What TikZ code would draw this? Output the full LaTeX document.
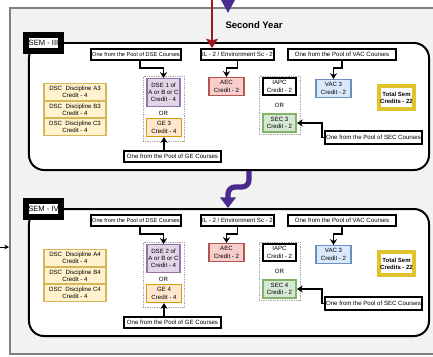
\documentclass[tikz,border=0pt]{standalone}
\usepackage{fontspec}
\setmainfont{Liberation Sans}
\usetikzlibrary{arrows.meta,calc}
\usepackage{xcolor}
\definecolor{background}{HTML}{F2F2F2}
\definecolor{framegray}{HTML}{808080}
\definecolor{dscfill}{HTML}{FFF2CC}
\definecolor{dscline}{HTML}{D6B656}
\definecolor{dsefill}{HTML}{E1D5E7}
\definecolor{dseline}{HTML}{9673A6}
\definecolor{gefill}{HTML}{FFE6CC}
\definecolor{geline}{HTML}{D79B00}
\definecolor{aecfill}{HTML}{F8CECC}
\definecolor{aecline}{HTML}{B85450}
\definecolor{secfill}{HTML}{D5E8D4}
\definecolor{secline}{HTML}{82B366}
\definecolor{vacfill}{HTML}{DAE8FC}
\definecolor{vacline}{HTML}{6C8EBF}
\definecolor{totline}{HTML}{E0C42A}
\definecolor{yearpurple}{HTML}{4A2A8F}
\definecolor{ilred}{HTML}{A0181E}

\tikzset{
  sembox/.style={draw, line width=1.7pt, fill=white, rounded corners=0.45cm,
    minimum width=12cm, minimum height=3.81cm},
  semlabel/.style={draw, line width=5pt, fill=white, inner sep=0pt,
    minimum width=1.05cm, minimum height=0.48cm, font=\fontsize{6.5}{7}\selectfont},
  pool/.style={draw, line width=1.6pt, fill=white, inner sep=1pt,
    minimum height=0.33cm, font=\fontsize{5.2}{6}\selectfont},
  course/.style={draw, line width=1.2pt, inner sep=0pt, align=center,
    minimum width=1.04cm, minimum height=0.53cm, font=\fontsize{5.2}{6.2}\selectfont},
  dsc/.style={course, fill=dscfill, draw=dscline, minimum width=1.87cm, minimum height=0.5cm},
  choice/.style={draw=gray!70, densely dotted, line width=0.5pt, minimum width=1.23cm},
  ortext/.style={font=\fontsize{5.2}{6}\selectfont, inner sep=0pt},
  pick/.style={line width=1.3pt, -{Stealth[length=5pt,width=6pt]}}
}

\begin{document}
\begin{tikzpicture}[x=0.03cm,y=-0.03cm]
\clip (0,0) rectangle (433,356);
%draw frame and heading
\draw[fill=background, draw=framegray, line width=1.2pt] (10,8) rectangle (445,354);
\node[font=\bfseries\fontsize{8.1}{9}\selectfont] (year) at (254,25) {Second Year};
\coordinate (yearIn) at (228,-12);
\coordinate (yearTip) at (228,13);
\draw[yearpurple, line width=4.5pt, -{Triangle[length=11pt,width=11pt]}] (yearIn) -- (yearTip);
\coordinate (leftIn) at (0,247);
\coordinate (leftTip) at (9,247);
\draw[line width=0.8pt, -{Stealth[length=4pt,width=4pt]}] (leftIn) -- (leftTip);

%draw both semesters
\foreach \sem/\dy/\n/\k in {III/0/1/3, IV/166/2/4}{
\begin{scope}[shift={(0,\dy)}]
  \node[sembox] (sem\sem) at (229,106.5) {};
  \node[semlabel] (lbl\sem) at (43.5,43) {SEM - \sem};

  \node[dsc] (dscA\sem) at (75,92) {DSC\ \ Discipline A\k\\Credit - 4};
  \node[dsc] (dscB\sem) at (75,109.5) {DSC\ \ Discipline B\k\\Credit - 4};
  \node[dsc] (dscC\sem) at (75,127) {DSC\ \ Discipline C\k\\Credit - 4};

  \node[choice, minimum height=1.95cm] (dseGrp\sem) at (163.5,108.5) {};
  \node[course, fill=dsefill, draw=dseline, minimum width=1cm, minimum height=0.83cm] (dse\sem) at (163.5,92.5) {DSE \n\ of\\A or B or C\\Credit - 4};
  \node[ortext] (dseOr\sem) at (163.5,113) {OR};
  \node[course, fill=gefill, draw=geline] (ge\sem) at (164,127.5) {GE \k\\Credit - 4};

  \node[course, fill=aecfill, draw=aecline] (aec\sem) at (226.5,86.5) {AEC\\Credit - 2};

  \node[choice, minimum height=1.74cm] (iapcGrp\sem) at (279.5,105) {};
  \node[course, line width=1.7pt, fill=white, minimum width=0.99cm, minimum height=0.51cm] (iapc\sem) at (279.5,86.5) {IAPC\\Credit - 2};
  \node[ortext] (iapcOr\sem) at (279.5,105) {OR};
  \node[course, fill=secfill, draw=secline, minimum width=1cm, minimum height=0.55cm] (sec\sem) at (279.5,123) {SEC \k\\Credit - 2};

  \node[course, fill=vacfill, draw=vacline] (vac\sem) at (333.5,88.5) {VAC 3\\Credit - 2};

  \node[draw=totline, line width=3pt, fill=white, inner sep=0pt, align=center,
    minimum width=1.05cm, minimum height=0.69cm,
    font=\bfseries\fontsize{5.1}{6.2}\selectfont] (total\sem) at (396.5,97.5) {Total Sem\\Credits - 22};

  %pools of courses
  \node[pool, minimum width=2.7cm, font=\fontsize{4.8}{6}\selectfont] (poolDSE\sem) at (136,54.5) {One from the Pool of DSE Courses};
  \node[pool, minimum width=2.91cm] (poolGE\sem) at (172.5,156.5) {One from the Pool of GE Courses};
  \node[pool, minimum width=2.19cm] (poolIL\sem) at (237.5,54.5) {IL - 2 / Environment Sc - 2};
  \node[pool, minimum width=3.24cm] (poolVAC\sem) at (342,54.5) {One from the Pool of VAC Courses};
  \node[pool, minimum width=2.91cm, minimum height=0.39cm] (poolSEC\sem) at (373.5,137.5) {One from the Pool of SEC Courses};

  \draw[pick] ([xshift=0.12cm]poolDSE\sem.south) -- ++(0,7) -| (dse\sem.north);
  \draw[pick] (poolGE\sem.north -| ge\sem.south) -- (ge\sem.south);
  \draw[pick] (poolIL\sem.south) -- ++(0,7) -| (aec\sem.north);
  \draw[pick] (poolVAC\sem.south) -- ++(0,7) -| (vac\sem.north);
  \draw[pick] (poolSEC\sem.west) -- ++(-2,0) |- (sec\sem.east);
\end{scope}
}

%arrows between the blocks
\coordinate (ilIn) at (212,-5);
\draw[ilred, line width=2pt, -{Stealth[length=8pt,width=10pt,inset=1.5pt]}] (ilIn) -- (ilIn |- poolILIII.north);
\draw[yearpurple, line width=4.5pt, rounded corners=6pt, -{Triangle[length=9pt,width=13pt]}]
  ([xshift=0.6cm]semIII.south) -- ++(0,16) -| ([xshift=-0.03cm]semIV.north);
\end{tikzpicture}
\end{document}
